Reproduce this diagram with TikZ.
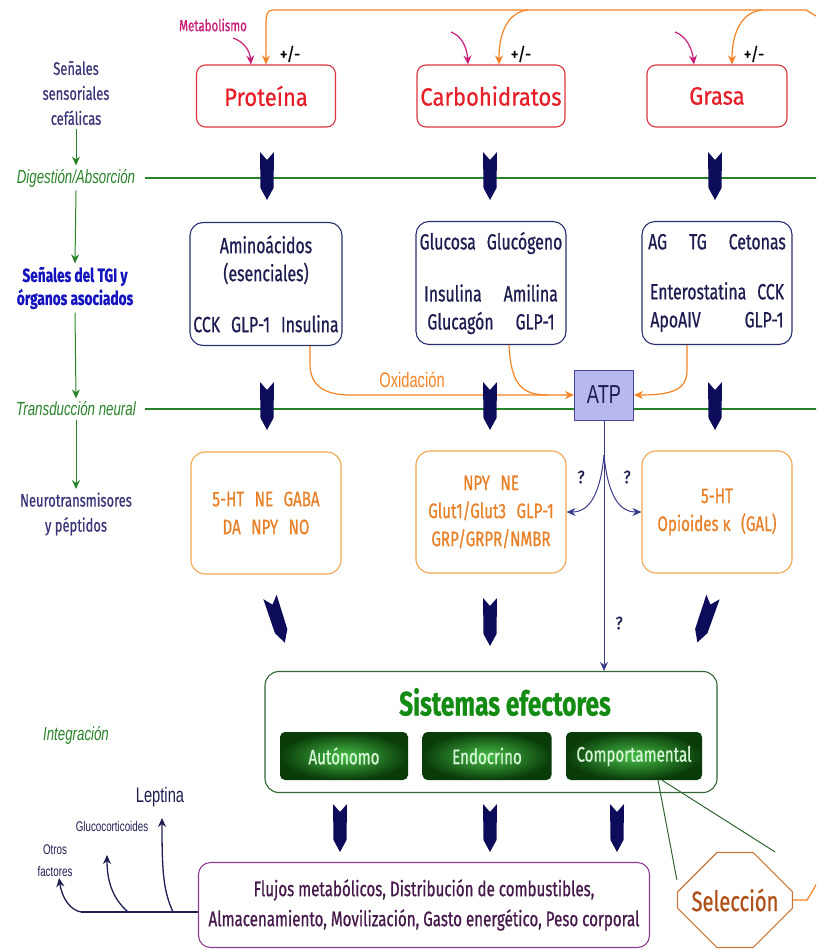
\documentclass[tikz,border=0pt]{standalone}
\usepackage{fontspec}
\newfontfamily\cfont{Fira Sans}[FakeStretch=0.72,FakeBold=0.7]
\newfontfamily\wfont{Fira Sans}[FakeStretch=0.88,FakeBold=0.6]
\newfontfamily\nfont{Liberation Sans}[FakeStretch=0.7]
\usetikzlibrary{ % tikz packages
    positioning,calc,
    arrows.meta,shapes.misc
}
\definecolor{redb}{RGB}{220,50,60}
\definecolor{redt}{RGB}{230,30,40}
\definecolor{navyb}{RGB}{40,48,110}
\definecolor{navyt}{RGB}{28,28,80}
\definecolor{orangeb}{RGB}{240,165,80}
\definecolor{oranget}{RGB}{232,128,40}
\definecolor{orangea}{RGB}{245,130,35}
\definecolor{magc}{RGB}{200,30,120}
\definecolor{chevc}{RGB}{12,12,90}
\definecolor{stagegreen}{RGB}{40,130,40}
\definecolor{tgiblue}{RGB}{20,20,190}
\definecolor{slate}{RGB}{58,54,120}
\definecolor{effborder}{RGB}{50,100,50}
\definecolor{efftitle}{RGB}{20,140,20}
\definecolor{effin}{RGB}{70,190,70}
\definecolor{effout}{RGB}{10,60,10}
\definecolor{efftext}{RGB}{215,245,215}
\definecolor{fluxb}{RGB}{140,60,140}
\definecolor{fluxt}{RGB}{70,25,75}
\definecolor{selb}{RGB}{200,120,60}
\definecolor{selt}{RGB}{176,80,26}
\definecolor{atpfill}{RGB}{184,184,240}
\definecolor{atpb}{RGB}{70,70,150}
\definecolor{atpline}{RGB}{60,60,140}
\definecolor{outc}{RGB}{30,30,80}
\newcommand{\fsz}[2]{\fontsize{#1}{#2}\selectfont}
\tikzset{>={Stealth[length=9pt,width=8pt]}}
\tikzset{
    foodbox/.style={draw=redb, line width=1.1pt, rounded corners=9pt,
        minimum height=62pt, text=redt, font=\wfont\fsz{25}{28}},
    signalbox/.style={draw=navyb, line width=1.1pt, rounded corners=13pt,
        minimum width=150pt, minimum height=123pt, text=navyt, align=center,
        font=\cfont\fsz{22}{28}},
    neurobox/.style={draw=orangeb, line width=1.1pt, rounded corners=14pt,
        minimum width=150pt, minimum height=122pt, text=oranget, align=center,
        font=\cfont\fsz{21}{28}},
    effbox/.style={rounded corners=5pt, minimum height=48pt,
        inner color=effin, outer color=effout, text=efftext,
        font=\cfont\fsz{21}{24}},
    sidelabel/.style={text=slate, align=center, font=\cfont\fsz{18}{25}},
    stagelabel/.style={text=stagegreen, font=\nfont\itshape\fsz{19}{22}},
    stagearrow/.style={draw=stagegreen, line width=1pt, ->},
    stageline/.style={draw=stagegreen, line width=1.1pt},
    feedback/.style={draw=orangea, line width=1.2pt},
    metarrow/.style={draw=magc, line width=1.2pt, ->},
    outarrow/.style={draw=outc, line width=1.3pt},
    atparrow/.style={draw=atpline, line width=1pt, ->},
    small/.style={font=\nfont\fsz{14}{22}, text=outc, align=center},
    chev/.pic={\fill[chevc] (-7,0) -- (0,8) -- (7,0) -- (6.5,36) -- (0,48) -- (-6.5,36) -- cycle;}
}

\begin{document}
\begin{tikzpicture}[x=1pt,y=-1pt,on grid]
    \useasboundingbox (0,0) rectangle (816,949);
    \clip (0,0) rectangle (816,949);

    % left column
    \node[sidelabel] (senso) at (76,93) {Señales\\sensoriales\\cefálicas};
    \node[stagelabel] (dig) at (76,178) {Digestión/Absorción};
    \node[sidelabel, text=tgiblue, font=\cfont\bfseries\fsz{19}{23}] (tgi) at (75,288) {Señales del TGI y\\órganos asociados};
    \node[stagelabel] (trans) at (76,409) {Transducción neural};
    \node[sidelabel] (neurot) at (76,514) {Neurotransmisores\\y péptidos};
    \node[stagelabel] (integ) at (76,735) {Integración};

    \coordinate (digend) at (820,178);
    \coordinate (transend) at (820,409);
    \draw[stageline] ([xshift=6pt]dig.east) -- (digend);
    \draw[stageline] ([xshift=6pt]trans.east) -- (transend);
    \draw[stagearrow] (senso.south) -- (dig.north);
    \draw[stagearrow] (dig.south) -- (tgi.north);
    \draw[stagearrow] (tgi.south) -- (trans.north);
    \draw[stagearrow] (trans.south) -- (neurot.north);

    % nutrients
    \node[foodbox, minimum width=139pt] (prot) at (266,96) {Proteína};
    \node[foodbox, minimum width=148pt] (carb) [right=225pt of prot] {Carbohidratos};
    \node[foodbox, minimum width=140pt] (grasa) [right=226pt of carb] {Grasa};

    % gut signals
    \node[signalbox] (amino) [below=188pt of prot] {Aminoácidos\\(esenciales)\\[23pt]CCK\enspace GLP-1\enspace Insulina};
    \node[signalbox] (gluc) [below=187pt of carb] {Glucosa\enspace Glucógeno\\[24pt]Insulina\quad Amilina\\Glucagón\quad GLP-1};
    \node[signalbox] (fat) [below=187pt of grasa] {AG\quad TG\quad Cetonas\\[22pt]Enterostatina\enspace CCK\\ApoAIV\qquad GLP-1};

    % neurotransmitters
    \node[neurobox] (ntL) [below=229pt of amino] {5-HT\enspace NE\enspace GABA\\DA\enspace NPY\enspace NO};
    \node[neurobox] (ntM) [below=229pt of gluc] {NPY\enspace NE\\Glut1/Glut3\enspace GLP-1\\GRP/GRPR/NMBR};
    \node[neurobox] (ntR) [below=229pt of fat] {5-HT\\Opioides κ\enspace(GAL)};

    % ATP
    \node[draw=atpb, fill=atpfill, line width=1pt, minimum width=59pt, minimum height=50pt,
        text=navyt, font=\nfont\fsz{26}{28}] (atp) at (604,395) {ATP};

    % effector systems
    \node[draw=effborder, line width=1.1pt, rounded corners=14pt, minimum width=452pt,
        minimum height=121pt] (effect) at (491,732) {};
    \node[text=efftitle, font=\cfont\bfseries\fsz{34}{36}] (efftitle) at (505,702) {Sistemas efectores};
    \node[effbox, minimum width=128pt] (auto) at (344,756) {Autónomo};
    \node[effbox, minimum width=129pt] (endo) at (487,756) {Endocrino};
    \node[effbox, minimum width=136pt] (comp) at (634,756) {Comportamental};

    % outcomes
    \node[draw=fluxb, line width=1.1pt, rounded corners=12pt, minimum width=451pt,
        minimum height=85pt, text=fluxt, align=center, font=\cfont\fsz{21}{30}] (flux) at (424,905)
        {Flujos metabólicos, Distribución de combustibles,\\Almacenamiento, Movilización, Gasto energético, Peso corporal};
    \node[chamfered rectangle, chamfered rectangle xsep=17pt, chamfered rectangle ysep=28pt,
        draw=selb, line width=1.2pt, minimum width=115pt, minimum height=95pt, inner sep=0pt,
        text=selt, font=\cfont\fsz{28}{30}] (sel) at (735,900) {Selección};

    % feedback loop
    \draw[feedback, ->] (sel.east) -- ++(14,0) -- (826,868) -- (826,22) -- (806,10) -- (273,10)
        .. controls (267,10) and (266,15) .. (266,24) -- (prot.north);
    \coordinate (fbC) at (528,10);
    \coordinate (fbG) at (762,10);
    \draw[feedback, ->] (fbC) .. controls (508,12) and (499,32) .. ($(carb.north)+(8,0)$);
    \draw[feedback, ->] (fbG) .. controls (742,12) and (732,32) .. ($(grasa.north)+(15,0)$);
    \node[font=\wfont\fsz{18}{20}] (pmP) at (290,54) {+/-};
    \node[font=\wfont\fsz{18}{20}] (pmC) at (521,54) {+/-};
    \node[font=\wfont\fsz{18}{20}] (pmG) at (754,54) {+/-};

    % metabolism
    \node[text=magc, font=\cfont\fsz{16}{18}] (metab) at (213,25) {Metabolismo};
    \coordinate (metP) at (233,38);
    \coordinate (metC) at (451,32);
    \coordinate (metG) at (675,32);
    \draw[metarrow] (metP) .. controls (245,42) and (250,52) .. ($(prot.north)+(-15,0)$);
    \draw[metarrow] (metC) .. controls (462,36) and (467,48) .. ($(carb.north)+(-23,0)$);
    \draw[metarrow] (metG) .. controls (686,36) and (692,48) .. ($(grasa.north)+(-23,0)$);

    % oxidation
    \draw[feedback, ->] ($(amino.south)+(44,0)$) -- ++(0,18)
        .. controls (310,386) and (325,395) .. (350,395) -- (atp.west);
    \draw[feedback] ($(gluc.south)+(18,0)$) .. controls (511,385) and (522,395) .. (548,395);
    \draw[feedback, ->] ($(fat.south)+(-30,0)$) -- ++(0,25)
        .. controls (687,390) and (672,395) .. (atp.east);
    \node[text=orangea, font=\nfont\fsz{21}{22}] (oxid) at (412,380) {Oxidación};

    % ATP to neurons and effectors
    \coordinate (fork) at (604,455);
    \draw[atparrow] (atp.south) -- (atp.south |- effect.north);
    \draw[atparrow] (fork) .. controls (600,497) and (588,512) .. (ntM.east);
    \draw[atparrow] (fork) .. controls (608,497) and (620,512) .. (ntR.west);
    \node[font=\wfont\fsz{18}{20}, text=navyt] (qL) at (581,477) {?};
    \node[font=\wfont\fsz{18}{20}, text=navyt] (qR) at (627,477) {?};
    \node[font=\wfont\fsz{18}{20}, text=navyt] (qD) at (619,623) {?};

    % flow chevrons
    \foreach \cx in {267,490,715} {
        \pic at (\cx,152) {chev};
        \pic at (\cx,382) {chev};
    }
    \pic[rotate=18] at (270,597) {chev};
    \pic at (490,598) {chev};
    \pic[rotate=-19] at (713,597) {chev};
    \foreach \cx in {340,490,617} {
        \pic at (\cx,804) {chev};
    }

    % selection links
    \draw[draw=effborder, line width=1pt] ($(comp.south)+(24,0)$) -- ($(sel.west)+(0,-20)$);
    \draw[draw=effborder, line width=1pt] ($(comp.south)+(28,0)$) -- ($(sel.north)+(40,0)$);

    % other factors
    \node[font=\nfont\fsz{21}{22}, text=outc] (lep) at (160,797) {Leptina};
    \node[small] (gluco) at (112,826) {Glucocorticoides};
    \node[small] (otros) at (55,861) {Otros\\factores};
    \coordinate (otroend) at (81,912);
    \coordinate (bG) at (128,912);
    \coordinate (bL) at (173,912);
    \coordinate (lepTip) at (162,818);
    \coordinate (glucoTip) at (107,855);
    \coordinate (otrosTip) at (59,878);
    \draw[outarrow] ($(flux.west)+(0,7)$) -- (otroend);
    \draw[outarrow, ->] (bL) .. controls (163,890) and (162,870) .. (lepTip);
    \draw[outarrow, ->] (bG) .. controls (112,898) and (107,880) .. (glucoTip);
    \draw[outarrow, ->] (otroend) .. controls (70,910) and (62,898) .. (otrosTip);
\end{tikzpicture}
\end{document}
